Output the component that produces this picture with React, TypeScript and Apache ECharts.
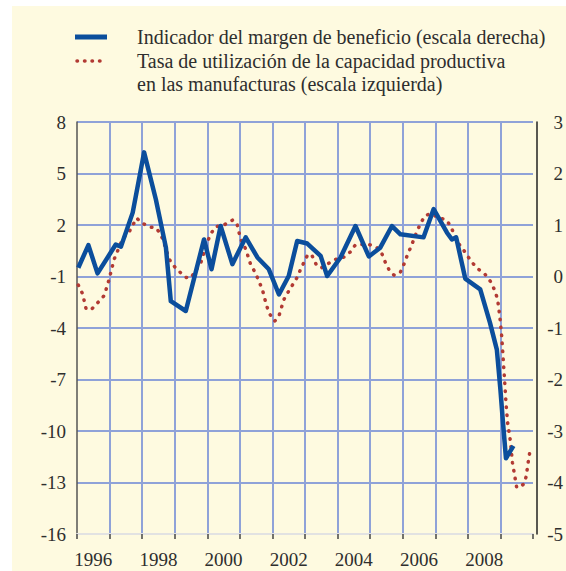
import React, { useEffect, useRef } from "react";
import * as echarts from "echarts";

const yearLabels = ["1996","1997","1998","1999","2000","2001","2002","2003","2004","2005","2006","2007","2008","2009"];

// Tasa de utilización de la capacidad productiva (escala izquierda)
const redDates = [
  1996.04, 1996.17, 1996.28, 1996.45, 1996.65, 1996.84, 1996.98, 1997.14, 1997.40, 1997.60,
  1997.83, 1998.01, 1998.22, 1998.45, 1998.63, 1998.83, 1998.98, 1999.19, 1999.34, 1999.49,
  1999.80, 2000.00, 2000.11, 2000.26, 2000.51, 2000.79, 2000.92, 2001.02, 2001.18, 2001.33,
  2001.48, 2001.69, 2001.82, 2001.92, 2002.07, 2002.20, 2002.35, 2002.50, 2002.76, 2002.86,
  2003.09, 2003.22, 2003.35, 2003.50, 2003.73, 2003.94, 2004.19, 2004.39, 2004.55, 2004.96,
  2005.21, 2005.37, 2005.47, 2005.60, 2005.74, 2005.93, 2006.05, 2006.15, 2006.25, 2006.44,
  2006.56, 2006.69, 2006.85, 2007.15, 2007.34, 2007.48, 2007.58, 2007.71, 2007.87, 2007.99,
  2008.15, 2008.33, 2008.53, 2008.71, 2008.82, 2008.91, 2008.98, 2009.04, 2009.08, 2009.12,
  2009.17, 2009.22, 2009.30, 2009.37, 2009.42, 2009.50, 2009.72, 2009.79, 2009.87, 2009.92
];
const redValues = [
  -1.5, -2.0, -2.9, -2.9, -2.5, -2.1, -1.2, 0.0, 1.2, 1.6,
  2.4, 2.1, 1.9, 1.8, 1.2, 0.0, -0.4, -0.8, -1.05, -1.1,
  -0.2, 1.0, 1.5, 1.9, 2.0, 2.3, 2.0, 1.2, 0.6, -0.3,
  -0.8, -1.75, -2.7, -3.2, -3.6, -3.3, -2.35, -1.85, -1.05, -0.6,
  0.3, 0.2, -0.33, -0.5, -0.23, 0.0, 0.13, 0.43, 0.85, 0.87,
  0.68, 0.29, -0.19, -0.68, -0.93, -0.74, -0.23, 0.29, 0.72, 1.65,
  2.14, 2.55, 2.65, 2.4, 2.3, 1.9, 1.45, 0.93, 0.54, 0.19,
  -0.23, -0.58, -0.88, -1.33, -1.79, -2.3, -3.3, -4.5, -5.65, -6.8,
  -8.35, -9.5, -10.5, -11.85, -12.4, -13.3, -13.1, -12.65, -11.6, -11.0
];

// Indicador del margen de beneficio (escala derecha)
const blueDates = [
  1996.04, 1996.35, 1996.63, 1997.19, 1997.35, 1997.71, 1998.06, 1998.42, 1998.73, 1998.88,
  1999.34, 1999.90, 2000.13, 2000.41, 2000.77, 2001.18, 2001.54, 2001.89, 2002.20, 2002.50,
  2002.76, 2003.07, 2003.48, 2003.68, 2004.09, 2004.55, 2004.96, 2005.31, 2005.67, 2005.93,
  2006.64, 2006.95, 2007.36, 2007.51, 2007.64, 2007.92, 2008.38, 2008.68, 2008.89, 2009.00,
  2009.08, 2009.17, 2009.40
];
const blueValues = [
  0.17, 0.61, 0.06, 0.62, 0.58, 1.24, 2.41, 1.5, 0.56, -0.48,
  -0.67, 0.72, 0.14, 0.98, 0.24, 0.76, 0.37, 0.14, -0.35, 0.01,
  0.69, 0.64, 0.40, 0.01, 0.37, 0.98, 0.39, 0.56, 0.98, 0.82,
  0.76, 1.31, 0.85, 0.72, 0.76, -0.04, -0.25, -0.9, -1.42, -2.2,
  -2.85, -3.53, -3.29
];

const legendBlue = "Indicador del margen de beneficio (escala derecha)";
const legendRed1 = "Tasa de utilización de la capacidad productiva";
const legendRed2 = "en las manufacturas (escala izquierda)";

const FONT = "'Liberation Serif', 'Times New Roman', serif";
const TXT = "#2e2e2e";
const GRIDC = "#8FA2D8";
const BLUE = "#0B4E9C";
const RED = "#B23A33";

export default function App() {
  const ref = useRef<HTMLDivElement>(null);
  useEffect(() => {
    if (!ref.current) return;
    const chart = echarts.init(ref.current, null, { renderer: "svg" });
    const redData = redDates.map((d, i) => [d, redValues[i]]);
    const blueData = blueDates.map((d, i) => [d, blueValues[i]]);
    chart.setOption({
      animation: false,
      backgroundColor: "transparent",
      textStyle: { fontFamily: FONT },
      grid: { left: 77, right: 33, top: 122, bottom: 37, containLabel: false },
      xAxis: [
        {
          type: "value",
          min: 1996,
          max: 2010,
          interval: 1,
          position: "bottom",
          axisLine: { show: true, onZero: false, lineStyle: { color: "#e2e2e2", width: 2 } },
          axisTick: { show: true, length: 5, lineStyle: { color: "#444", width: 1.5 } },
          axisLabel: { show: false },
          splitLine: { show: true, showMinLine: false, showMaxLine: false, lineStyle: { color: GRIDC, width: 2 } },
        },
        {
          type: "category",
          data: yearLabels,
          position: "bottom",
          boundaryGap: true,
          axisLine: { show: false, onZero: false },
          axisTick: { show: false },
          splitLine: { show: false },
          axisLabel: { interval: 1, fontFamily: FONT, fontSize: 19, color: TXT, margin: 16 },
        },
      ],
      yAxis: [
        {
          type: "value",
          position: "left",
          min: -16,
          max: 8,
          interval: 3,
          axisLine: { show: true, onZero: false, lineStyle: { color: "#555", width: 1.5 } },
          axisTick: { show: false },
          axisLabel: { fontFamily: FONT, fontSize: 19, color: TXT, margin: 11 },
          splitLine: { show: true, showMinLine: false, lineStyle: { color: GRIDC, width: 2 } },
        },
        {
          type: "value",
          position: "right",
          offset: 4,
          min: -5,
          max: 3,
          interval: 1,
          axisLine: { show: true, onZero: false, lineStyle: { color: "#222", width: 1.5 } },
          axisTick: { show: false },
          axisLabel: { fontFamily: FONT, fontSize: 19, color: TXT, margin: 26, align: "right" },
          splitLine: { show: false },
        },
      ],
      series: [
        {
          type: "line",
          name: "red",
          xAxisIndex: 0,
          yAxisIndex: 0,
          data: redData,
          showSymbol: false,
          lineStyle: { color: RED, width: 3.5, type: [0.5, 7.5], cap: "round" },
          z: 3,
        },
        {
          type: "line",
          name: "blue",
          xAxisIndex: 0,
          yAxisIndex: 1,
          data: blueData,
          showSymbol: false,
          lineStyle: { color: BLUE, width: 4.5, join: "round" },
          z: 4,
        },
      ],
      graphic: [
        { type: "line", shape: { x1: 75, y1: 37, x2: 107, y2: 37 }, style: { stroke: BLUE, lineWidth: 5 } },
        { type: "line", shape: { x1: 77, y1: 61, x2: 107, y2: 61 }, style: { stroke: RED, lineWidth: 3.5, lineDash: [0.5, 7], lineCap: "round" } },
        { type: "text", x: 137, y: 37, style: { text: legendBlue, fontFamily: FONT, fontSize: 20, fill: TXT, verticalAlign: "middle" } },
        { type: "text", x: 137, y: 61, style: { text: legendRed1, fontFamily: FONT, fontSize: 20, fill: TXT, verticalAlign: "middle" } },
        { type: "text", x: 137, y: 84, style: { text: legendRed2, fontFamily: FONT, fontSize: 20, fill: TXT, verticalAlign: "middle" } },
      ],
    });
    return () => chart.dispose();
  }, []);
  return (
    <div style={{ position: "fixed", left: 0, top: 0, width: 566, height: 571, background: "#ffffff" }}>
      <div style={{ position: "absolute", left: 12, top: 6, width: 554, height: 565, background: "#FEFAE0" }} />
      <div ref={ref} style={{ position: "absolute", left: 0, top: 0, width: 566, height: 571 }} />
    </div>
  );
}
